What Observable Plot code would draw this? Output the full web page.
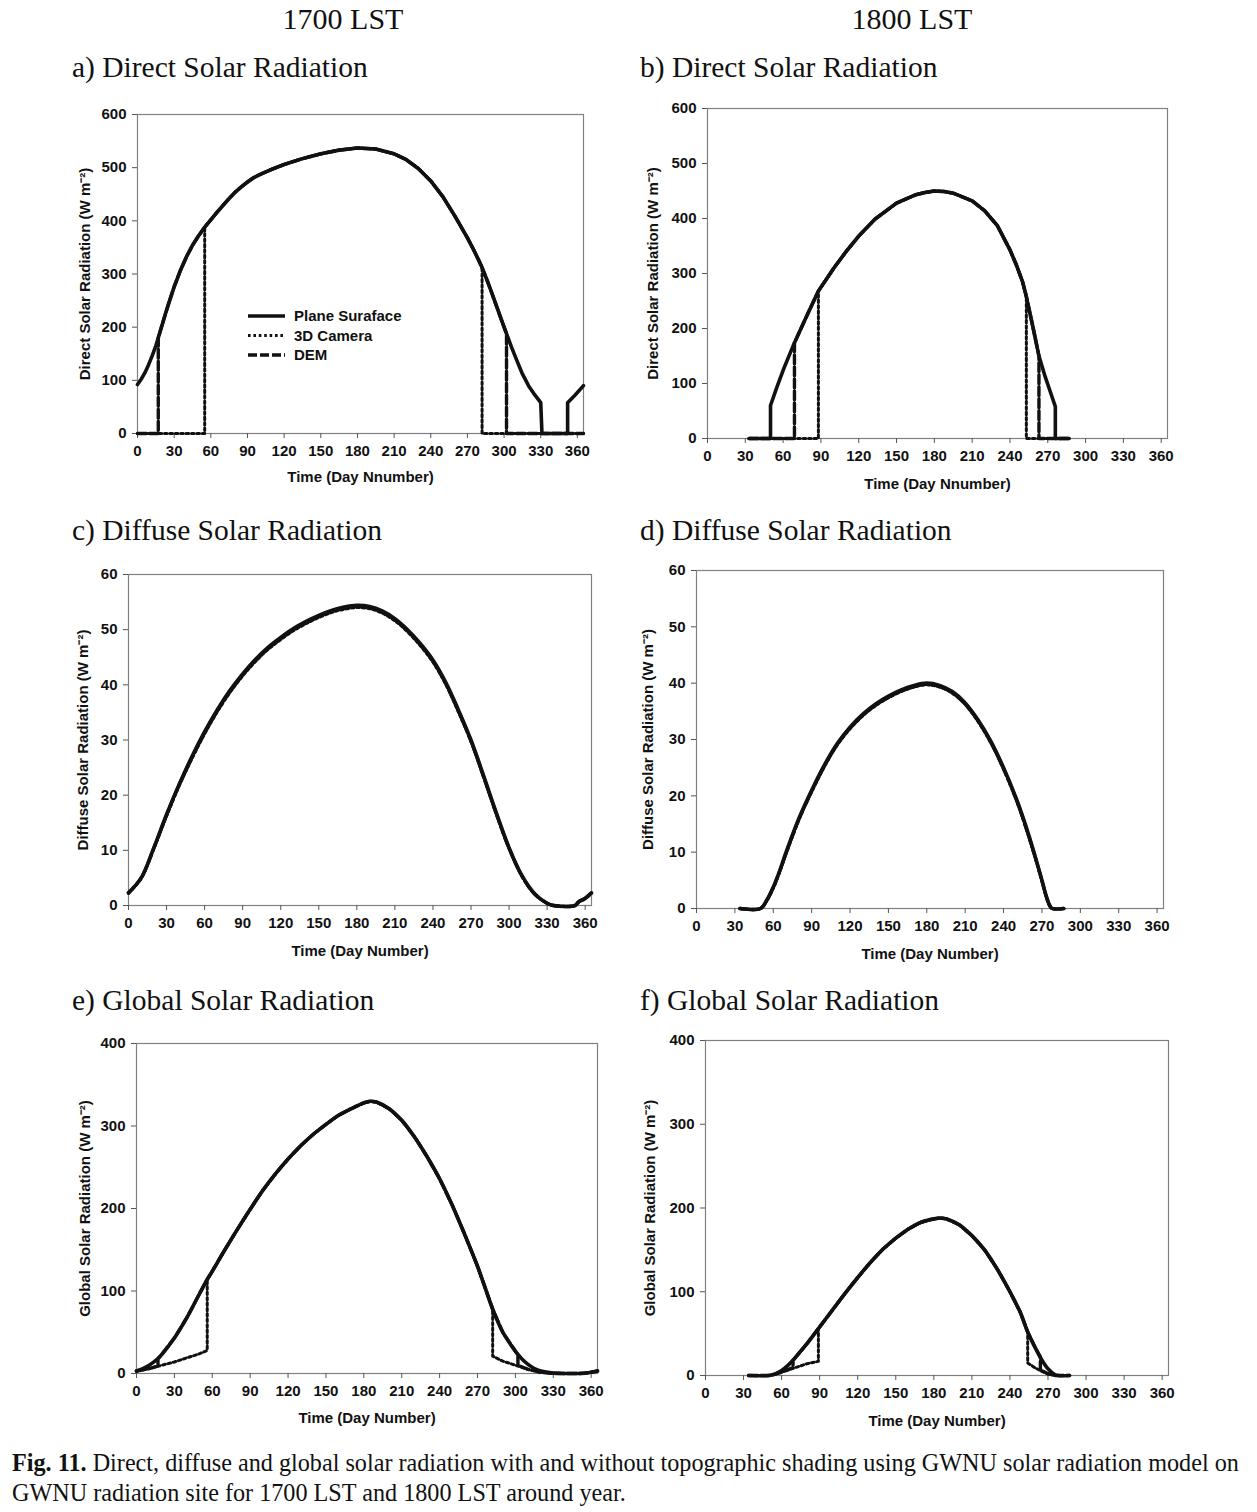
<!DOCTYPE html>
<html><head><meta charset="utf-8">
<script src="https://cdn.jsdelivr.net/npm/d3@7"></script>
<script src="https://cdn.jsdelivr.net/npm/@observablehq/plot@0.6"></script>
<style>
body{margin:0;background:#fff;}
#page{position:relative;width:1257px;height:1512px;background:#fff;overflow:hidden;}
.abs{position:absolute;white-space:nowrap;}
.serif{font-family:"Liberation Serif","Times New Roman",serif;color:#111;line-height:1;}
.head{font-size:30px;text-align:center;width:240px;}
.ttl{font-size:29.5px;}
.cap{font-size:24.2px;}
</style></head><body><div id="page"></div>
<script>
// ---------- tick labels ----------
const xTicks = [0,30,60,90,120,150,180,210,240,270,300,330,360];
const yTicksDirect = [0,100,200,300,400,500,600];
const yTicksDiffuse = [0,10,20,30,40,50,60];
const yTicksGlobal = [0,100,200,300,400];
const seriesNames = ["Plane Suraface","3D Camera","DEM"];

// ---------- a) Direct, 1700 LST ----------
const aPlaneDay = [0,3,6,9,12,15,17,20,23,26,30,35,40,45,50,55,60,65,70,75,80,85,90,95,100,110,120,135,150,165,180,195,210,220,230,240,250,260,270,275,280,282,286,290,295,300,302,306,310,315,320,325,330,331,352,352,358,365];
const aPlaneVal = [92,102,114,129,146,165,180,203,226,248,276,306,332,354,372,388,402,416,429,442,454,464,473,481,487,497,506,517,526,533,537,535,526,515,498,475,445,408,368,346,322,312,289,264,232,200,188,163,140,112,90,73,58,0,0,58,72,90];
const a3DDay = [0,55,55,60,65,70,75,80,85,90,95,100,110,120,135,150,165,180,195,210,220,230,240,250,260,270,275,280,282,282,365];
const a3DVal = [0,0,388,402,416,429,442,454,464,473,481,487,497,506,517,526,533,537,535,526,515,498,475,445,408,368,346,322,312,0,0];
const aDEMDay = [0,17,17,20,23,26,30,35,40,45,50,55,60,65,70,75,80,85,90,95,100,110,120,135,150,165,180,195,210,220,230,240,250,260,270,275,280,282,286,290,295,300,302,302,365];
const aDEMVal = [0,0,180,203,226,248,276,306,332,354,372,388,402,416,429,442,454,464,473,481,487,497,506,517,526,533,537,535,526,515,498,475,445,408,368,346,322,312,289,264,232,200,188,0,0];

// ---------- b) Direct, 1800 LST ----------
const bPlaneDay = [33,50,50,55,60,65,69,75,80,88,95,100,110,120,133,150,165,172,180,188,195,210,220,230,240,245,250,253,258,263,268,272,276,276,287];
const bPlaneVal = [0,0,60,93,124,152,174,204,229,268,292,309,340,368,399,428,443,447,450,449,446,432,414,387,343,316,285,258,205,150,112,85,58,0,0];
const b3DDay = [33,88,88,95,100,110,120,133,150,165,172,180,188,195,210,220,230,240,245,250,253,253,287];
const b3DVal = [0,0,268,292,309,340,368,399,428,443,447,450,449,446,432,414,387,343,316,285,258,0,0];
const bDEMDay = [33,69,69,75,80,88,95,100,110,120,133,150,165,172,180,188,195,210,220,230,240,245,250,253,258,263,263,287];
const bDEMVal = [0,0,174,204,229,268,292,309,340,368,399,428,443,447,450,449,446,432,414,387,343,316,285,258,205,150,0,0];

// ---------- c) Diffuse, 1700 LST ----------
const cDay = [0,10,20,30,40,50,60,70,80,90,100,110,120,130,140,150,160,170,180,190,200,210,220,230,240,250,260,270,280,290,300,310,320,330,335,352,355,360,365];
const cPlane = [2.3,5,10.5,16.5,22,27,31.5,35.5,39,42,44.6,46.8,48.6,50.2,51.5,52.6,53.5,54.1,54.4,54.2,53.4,52,50,47.5,44.5,40.5,35.5,30,23.5,16.8,10.5,5.5,2.2,0.4,0,0,0.7,1.3,2.3];
const c3D = [2.2,4.9,10.3,16.2,21.7,26.6,31.1,35.1,38.6,41.6,44.2,46.4,48.2,49.8,51.1,52.2,53.1,53.7,54,53.8,53,51.6,49.6,47.1,44.1,40.1,35.1,29.7,23.2,16.5,10.3,5.4,2.1,0.4,0,0,0.6,1.2,2.2];
const cDEM = [2.3,5,10.4,16.4,21.9,26.8,31.3,35.3,38.8,41.8,44.4,46.6,48.4,50,51.3,52.4,53.3,53.9,54.2,54,53.2,51.8,49.8,47.3,44.3,40.3,35.3,29.8,23.3,16.6,10.4,5.4,2.1,0.4,0,0,0.7,1.3,2.3];

// ---------- d) Diffuse, 1800 LST ----------
const dDay = [34,50,55,60,65,70,80,90,100,110,120,130,140,150,160,170,180,190,200,210,220,230,240,250,255,260,265,270,273,276,278,287];
const dPlane = [0,0,1.5,3.8,6.7,10,16,21,25.5,29.3,32.2,34.5,36.3,37.7,38.8,39.6,40,39.6,38.5,36.5,33.5,29.7,25,19.5,16.3,12.8,9,5,2.5,0.6,0,0];
const d3D = [0,0,1.4,3.6,6.5,9.7,15.7,20.7,25.2,29,31.9,34.2,36,37.4,38.5,39.3,39.7,39.3,38.2,36.2,33.2,29.4,24.7,19.2,16,12.5,8.8,4.9,2.4,0.5,0,0];
const dDEM = [0,0,1.5,3.7,6.6,9.8,15.8,20.8,25.3,29.1,32,34.3,36.1,37.5,38.6,39.4,39.8,39.4,38.3,36.3,33.3,29.5,24.8,19.3,16.1,12.6,8.9,4.9,2.4,0.5,0,0];

// ---------- e) Global, 1700 LST ----------
const ePlaneDay = [0,5,10,17,20,30,40,50,56,60,70,80,90,100,110,120,130,140,150,160,170,180,185,190,200,210,220,230,240,250,260,270,276,282,290,300,302,305,310,315,320,330,340,350,355,360,365];
const ePlaneVal = [3,6,10,18,23,43,68,97,114,124,150,175,199,222,242,260,276,290,302,313,321,328,330,329,321,307,287,263,236,204,168,130,104,78,50,27,23,18,11,6,3,0.5,0,0,0.5,1.5,3];
const e3DDay = [0,10,20,30,40,50,56,56,60,70,80,90,100,110,120,130,140,150,160,170,180,185,190,200,210,220,230,240,250,260,270,276,282,282,290,300,310,320,330,340,350,355,360,365];
const e3DVal = [3,6,10,14,19,24,28,114,124,150,175,199,222,242,260,276,290,302,313,321,328,330,329,321,307,287,263,236,204,168,130,104,78,21,15,10,5,1.5,0.3,0,0,0.5,1.5,3];
const eDEMDay = [0,10,17,17,20,30,40,50,56,60,70,80,90,100,110,120,130,140,150,160,170,180,185,190,200,210,220,230,240,250,260,270,276,282,290,300,302,302,310,320,330,340,350,355,360,365];
const eDEMVal = [3,6,9,18,23,43,68,97,114,124,150,175,199,222,242,260,276,290,302,313,321,328,330,329,321,307,287,263,236,204,168,130,104,78,50,27,23,10,5,1.5,0.3,0,0,0.5,1.5,3];

// ---------- f) Global, 1800 LST ----------
const fPlaneDay = [34,50,55,60,65,70,75,80,85,90,100,110,120,130,140,150,160,170,180,185,190,200,210,220,230,240,248,254,260,265,270,275,278,287];
const fPlaneVal = [0,0,2,6,12,20,29,38,48,58,78,98,117,135,151,164,175,183,187,188,187,180,167,150,127,100,76,52,33,19,8,1.5,0,0];
const f3DDay = [34,50,55,60,70,80,89,89,90,100,110,120,130,140,150,160,170,180,185,190,200,210,220,230,240,248,254,254,260,265,270,276,287];
const f3DVal = [0,0,1.5,4,9,14,17,56,58,78,98,117,135,151,164,175,183,187,188,187,180,167,150,127,100,76,52,15,9,5,2,0,0];
const fDEMDay = [34,50,55,60,69,69,75,80,85,90,100,110,120,130,140,150,160,170,180,185,190,200,210,220,230,240,248,254,260,264,264,270,276,287];
const fDEMVal = [0,0,1.5,4,9.5,18,29,38,48,58,78,98,117,135,151,164,175,183,187,188,187,180,167,150,127,100,76,52,33,22,7,2,0,0];

// ---------- styles ----------
const lineStyle = {
  "Plane Suraface": {strokeWidth: 3.6, strokeDasharray: null},
  "3D Camera": {strokeWidth: 3, strokeDasharray: "2.6,2.8"},
  "DEM": {strokeWidth: 3.4, strokeDasharray: "9,3"}
};

const rows = (days, vals) => days.map((d, i) => ({day: d, v: vals[i]}));

const panels = [
  {L:137,R:583,T:114,B:433, yMax:600, yTicks:yTicksDirect, ylabel:"Direct Solar Radiation (W m\u207B\u00B2)", xlabel:"Time (Day Nnumber)", ydx:-52, xdy:48,
   series:[["DEM",aDEMDay,aDEMVal,"linear"],["3D Camera",a3DDay,a3DVal,"linear"],["Plane Suraface",aPlaneDay,aPlaneVal,"linear"]]},
  {L:707,R:1167,T:108,B:438, yMax:600, yTicks:yTicksDirect, ylabel:"Direct Solar Radiation (W m\u207B\u00B2)", xlabel:"Time (Day Nnumber)", ydx:-54, xdy:50,
   series:[["DEM",bDEMDay,bDEMVal,"linear"],["3D Camera",b3DDay,b3DVal,"linear"],["Plane Suraface",bPlaneDay,bPlaneVal,"linear"]]},
  {L:128,R:591,T:574,B:905, yMax:60, yTicks:yTicksDiffuse, ylabel:"Diffuse Solar Radiation (W m\u207B\u00B2)", xlabel:"Time (Day Number)", ydx:-45, xdy:50,
   series:[["DEM",cDay,cDEM,"catmull-rom"],["3D Camera",cDay,c3D,"catmull-rom"],["Plane Suraface",cDay,cPlane,"catmull-rom"]]},
  {L:696,R:1163,T:570,B:908, yMax:60, yTicks:yTicksDiffuse, ylabel:"Diffuse Solar Radiation (W m\u207B\u00B2)", xlabel:"Time (Day Number)", ydx:-48, xdy:50,
   series:[["DEM",dDay,dDEM,"catmull-rom"],["3D Camera",dDay,d3D,"catmull-rom"],["Plane Suraface",dDay,dPlane,"catmull-rom"]]},
  {L:136,R:597,T:1043,B:1373, yMax:400, yTicks:yTicksGlobal, ylabel:"Global Solar Radiation (W m\u207B\u00B2)", xlabel:"Time (Day Number)", ydx:-51, xdy:49,
   series:[["DEM",eDEMDay,eDEMVal,"linear"],["3D Camera",e3DDay,e3DVal,"linear"],["Plane Suraface",ePlaneDay,ePlaneVal,"catmull-rom"]]},
  {L:705,R:1168,T:1040,B:1375, yMax:400, yTicks:yTicksGlobal, ylabel:"Global Solar Radiation (W m\u207B\u00B2)", xlabel:"Time (Day Number)", ydx:-55, xdy:50,
   series:[["DEM",fDEMDay,fDEMVal,"linear"],["3D Camera",f3DDay,f3DVal,"linear"],["Plane Suraface",fPlaneDay,fPlaneVal,"catmull-rom"]]}
];

const page = document.getElementById("page");
const mL = 75, mR = 20, mT = 15, mB = 65;

for (const p of panels) {
  const width = p.R - p.L + mL + mR;
  const height = p.B - p.T + mT + mB;
  const chart = Plot.plot({
    width, height,
    marginLeft: mL, marginRight: mR, marginTop: mT, marginBottom: mB,
    x: {domain: [0, 365]},
    y: {domain: [0, p.yMax]},
    style: {fontFamily: "'Liberation Sans', Arial, sans-serif", fontSize: "15px", fontWeight: "bold", background: "transparent", overflow: "visible", color: "#111"},
    marks: [
      Plot.frame({stroke: "#808080", strokeWidth: 1.2}),
      Plot.axisX({ticks: xTicks, tickSize: 5, tickPadding: 7, tickFormat: d => String(d), stroke: "#555", fill: "#111", label: null}),
      Plot.axisY({ticks: p.yTicks, tickSize: 5, tickPadding: 6, tickFormat: d => String(d), stroke: "#555", fill: "#111", label: null}),
      Plot.text([p.ylabel], {frameAnchor: "left", textAnchor: "middle", dx: p.ydx, rotate: -90, text: d => d, fill: "#111"}),
      Plot.text([p.xlabel], {frameAnchor: "bottom", textAnchor: "middle", dy: p.xdy, text: d => d, fill: "#111"}),
      ...p.series.map(([name, days, vals, curve]) => Plot.line(rows(days, vals), {
        x: "day", y: "v", stroke: "#111", curve,
        strokeWidth: lineStyle[name].strokeWidth,
        strokeDasharray: lineStyle[name].strokeDasharray || undefined,
        strokeLinejoin: "round"
      }))
    ]
  });
  chart.style.position = "absolute";
  chart.style.left = (p.L - mL) + "px";
  chart.style.top = (p.T - mT) + "px";
  page.appendChild(chart);
}

// ---------- texts ----------
function addText(cls, text, left, top, html) {
  const d = document.createElement("div");
  d.className = "abs serif " + cls;
  if (html) d.innerHTML = text; else d.textContent = text;
  d.style.left = left + "px";
  d.style.top = top + "px";
  page.appendChild(d);
  return d;
}
addText("head", "1700 LST", 343 - 120, 4);
addText("head", "1800 LST", 912 - 120, 4);
addText("ttl", "a) Direct Solar Radiation", 72, 53);
addText("ttl", "b) Direct Solar Radiation", 640, 53);
addText("ttl", "c) Diffuse Solar Radiation", 72, 516);
addText("ttl", "d) Diffuse Solar Radiation", 640, 516);
addText("ttl", "e) Global Solar Radiation", 72, 986);
addText("ttl", "f) Global Solar Radiation", 640, 986);
addText("cap", "<b>Fig. 11.</b> Direct, diffuse and global solar radiation with and without topographic shading using GWNU solar radiation model on", 12, 1451, true);
addText("cap", "GWNU radiation site for 1700 LST and 1800 LST around year.", 12, 1481);

// ---------- legend (panel a) ----------
const ns = "http://www.w3.org/2000/svg";
const leg = document.createElementNS(ns, "svg");
leg.setAttribute("width", 200); leg.setAttribute("height", 64);
leg.style.position = "absolute"; leg.style.left = "240px"; leg.style.top = "302px";
seriesNames.forEach((name, i) => {
  const y = 14 + i * 19.5;
  const ln = document.createElementNS(ns, "line");
  ln.setAttribute("x1", 8); ln.setAttribute("x2", 45); ln.setAttribute("y1", y); ln.setAttribute("y2", y);
  ln.setAttribute("stroke", "#111");
  ln.setAttribute("stroke-width", lineStyle[name].strokeWidth);
  if (lineStyle[name].strokeDasharray) ln.setAttribute("stroke-dasharray", lineStyle[name].strokeDasharray);
  leg.appendChild(ln);
  const t = document.createElementNS(ns, "text");
  t.setAttribute("x", 54); t.setAttribute("y", y); t.setAttribute("dy", "0.35em");
  t.setAttribute("font-family", "'Liberation Sans', Arial, sans-serif");
  t.setAttribute("font-weight", "bold"); t.setAttribute("font-size", "15px"); t.setAttribute("fill", "#111");
  t.textContent = name;
  leg.appendChild(t);
});
page.appendChild(leg);
</script></body></html>
